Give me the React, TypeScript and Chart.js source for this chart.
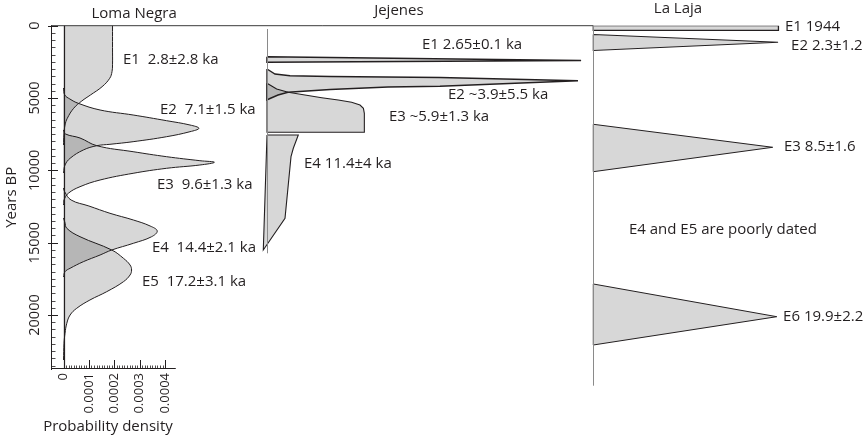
import React, { useEffect, useRef } from 'react';
import { Chart, registerables } from 'chart.js';

Chart.register(...registerables);

const W = 865;
const H = 438;
const FONT = "'Open Sans', 'Noto Sans', sans-serif";
const INK = '#231f20';
const FILL = 'rgba(0,0,0,0.155)';

// ---------- axes ----------
const Y_MAX = 23733; // years BP at the bottom of the Loma Negra axis
const Y_TICKS = [0, 5000, 10000, 15000, 20000];
const Y_MINOR_STEP = 500;
const LN_TICKS = [0, 0.0001, 0.0002, 0.0003, 0.0004];
const LN_MINOR_STEP = 0.00001;
const LN_AXIS_END = 0.000442;
const JJ_AXIS_YEARS = [228, 15735];
const LL_AXIS_YEARS = [0, 24887];

// ---------- Loma Negra: probability density vs years BP ----------
const LN_E1_YEARS = [-3000, -3000, -1500, 0, 1500, 2700, 3180, 3636, 4217, 4791, 5206, 5710, 6401, 6865, 7556, 8247];
const LN_E1_DENS = [0, 1.93e-4, 1.93e-4, 1.93e-4, 1.93e-4, 1.93e-4, 1.91e-4, 1.82e-4, 1.52e-4, 1.06e-4, 0.72e-4, 0.40e-4, 0.15e-4, 0.06e-4, 0.015e-4, 0];
const LN_E2_YEARS = [4307, 4791, 5067, 5365, 5828, 6173, 6567, 6865, 7093, 7328, 7673, 8019, 8199, 8296, 8593, 9167, 9630, 10183];
const LN_E2_DENS = [0, 0.05e-4, 0.25e-4, 0.58e-4, 1.44e-4, 2.74e-4, 4.06e-4, 4.98e-4, 5.33e-4, 4.98e-4, 4.06e-4, 2.74e-4, 1.83e-4, 1.31e-4, 0.78e-4, 0.26e-4, 0.06e-4, 0];
const LN_E3_YEARS = [7210, 7487, 7763, 8296, 8710, 9056, 9333, 9443, 9630, 9858, 10204, 10667, 11130, 11586, 12050, 12395];
const LN_E3_DENS = [0, 0.08e-4, 0.65e-4, 1.31e-4, 2.74e-4, 4.06e-4, 5.37e-4, 5.94e-4, 5.37e-4, 4.06e-4, 2.74e-4, 1.44e-4, 0.65e-4, 0.19e-4, 0.02e-4, 0];
const LN_E4_YEARS = [11220, 11496, 12050, 12464, 12968, 13432, 13847, 14193, 14587, 15043, 15506, 15852, 16315, 16771, 17006, 17372];
const LN_E4_DENS = [0, 0.05e-4, 0.3e-4, 1.0e-4, 1.83e-4, 2.75e-4, 3.41e-4, 3.69e-4, 3.47e-4, 2.75e-4, 1.90e-4, 1.44e-4, 0.78e-4, 0.26e-4, 0.06e-4, 0];
const LN_E5_YEARS = [13294, 13570, 14006, 14587, 15506, 16080, 16543, 16889, 17235, 17697, 18389, 18963, 19536, 20000, 20573, 21264, 21956, 23110];
const LN_E5_DENS = [0, 0.05e-4, 0.13e-4, 0.65e-4, 1.90e-4, 2.36e-4, 2.62e-4, 2.68e-4, 2.62e-4, 2.36e-4, 1.70e-4, 1.04e-4, 0.52e-4, 0.26e-4, 0.13e-4, 0.06e-4, 0.02e-4, 0];

// ---------- Jejenes: relative density (0-100) vs years BP ----------
const JJ_E1_YEARS = [2142, 2406, 2530, 2142];
const JJ_E1_DENS = [0, 101, 0, 0];
const JJ_E2_YEARS = [2993, 3339, 3457, 3512, 3581, 3802, 4189, 4238, 4410, 4604, 4791, 5033, 5136, 2993];
const JJ_E2_DENS = [0, 2.57, 7.4, 20.3, 55.6, 100, 55.6, 38.9, 20.3, 6.75, 3.54, 0.96, 0, 0];
const JJ_E3_YEARS = [3982, 4376, 4604, 4791, 4977, 5136, 5295, 5482, 5710, 6056, 7369, 7369, 3982];
const JJ_E3_DENS = [0, 3.1, 6.8, 12.2, 17.6, 22.9, 27.2, 29.9, 31.0, 31.3, 31.3, 0, 0];
const JJ_E4_YEARS = [7556, 7556, 8475, 9056, 13314, 15506, 7556];
const JJ_E4_DENS = [0, 10.06, 8.46, 7.72, 5.79, -1.19, 0];

// ---------- La Laja: relative density (0-100) vs years BP ----------
const LL_E1_YEARS = [0, 0, 330, 330, 0];
const LL_E1_DENS = [0, 99.7, 99.7, 0, 0];
const LL_E2_YEARS = [609, 1148, 1715, 609];
const LL_E2_DENS = [0, 99.5, 0, 0];
const LL_E3_YEARS = [6816, 8406, 10093, 6816];
const LL_E3_DENS = [0, 96.6, 0, 0];
const LL_E6_YEARS = [17856, 20117, 22073, 17856];
const LL_E6_DENS = [0, 98.8, 0, 0];

// ---------- text labels ----------
const LABEL_TEXT = [
  'Loma Negra', 'Jejenes', 'La Laja',
  'E1  2.8±2.8 ka', 'E2  7.1±1.5 ka', 'E3  9.6±1.3 ka', 'E4  14.4±2.1 ka', 'E5  17.2±3.1 ka',
  'E1 2.65±0.1 ka', 'E2 ~3.9±5.5 ka', 'E3 ~5.9±1.3 ka', 'E4 11.4±4 ka',
  'E1 1944', 'E2 2.3±1.2', 'E3 8.5±1.6', 'E4 and E5 are poorly dated', 'E6 19.9±2.2',
  'Probability density',
];
// placement (scale id, x value, year, alignment) kept apart from the text
const LABEL_AT: [string, number, number, CanvasTextAlign][] = [
  ['x', 2.78e-4, -809, 'center'], ['xJ', 42.4, -1016, 'center'], ['xL', 45.6, -1155, 'center'],
  ['x', 2.34e-4, 2371, 'left'], ['x', 3.80e-4, 5828, 'left'], ['x', 3.68e-4, 11012, 'left'], ['x', 3.48e-4, 15368, 'left'], ['x', 3.09e-4, 17718, 'left'],
  ['xJ', 49.8, 1334, 'left'], ['xJ', 58.2, 4791, 'left'], ['xJ', 39.2, 6312, 'left'], ['xJ', 11.9, 9560, 'left'],
  ['xL', 103.2, 69, 'left'], ['xL', 106.5, 1403, 'left'], ['xL', 102.7, 8386, 'left'], ['xL', 19.2, 14124, 'left'], ['xL', 102.2, 20138, 'left'],
  ['x', 1.75e-4, 27742, 'center'],
];

// ---------- layout ----------
const AREA = { left: 51, top: 25.7, bottom: 369 };
function span(zeroPx: number, pxPerUnit: number) {
  return { min: -(zeroPx - AREA.left) / pxPerUnit, max: (W - zeroPx) / pxPerUnit };
}
const LN_RANGE = span(63.5, 254000);
const JJ_RANGE = span(267, 3.11);
const LL_RANGE = span(593.3, 1.857);

function shape(years: number[], dens: number[], axis: string, tension: number, width = 1) {
  return {
    type: 'line' as const,
    data: years.map((y, i) => ({ x: dens[i], y })),
    xAxisID: axis,
    yAxisID: 'y',
    borderColor: INK,
    borderWidth: width,
    backgroundColor: FILL,
    fill: 'shape',
    tension,
    pointRadius: 0,
    pointHoverRadius: 0,
  };
}

const decor = {
  id: 'decor',
  afterDatasetsDraw(chart: any) {
    const { ctx, chartArea, scales } = chart;
    const ys = scales.y;
    const xl = scales.x;
    const xj = scales.xJ;
    const xa = scales.xL;
    const seg = (x1: number, y1: number, x2: number, y2: number, color: string, w: number) => {
      ctx.beginPath();
      ctx.strokeStyle = color;
      ctx.lineWidth = w;
      ctx.moveTo(x1, y1);
      ctx.lineTo(x2, y2);
      ctx.stroke();
    };
    ctx.save();
    const top = ys.getPixelForValue(0);
    const bottom = chartArea.bottom;
    // top rule at 0 years
    seg(chartArea.left, top, xa.getPixelForValue(0), top, '#3a3a3a', 1);
    // Loma Negra zero-density line
    const x0 = Math.round(xl.getPixelForValue(0)) + 0.5;
    seg(x0, top, x0, bottom, INK, 1.2);
    // density axis line and ticks
    seg(chartArea.left, bottom - 0.5, xl.getPixelForValue(LN_AXIS_END), bottom - 0.5, INK, 1);
    const nX = Math.round(LN_TICKS[LN_TICKS.length - 1] / LN_MINOR_STEP);
    for (let k = 0; k <= nX; k++) {
      const px = Math.round(xl.getPixelForValue(k * LN_MINOR_STEP)) + 0.5;
      const major = k % 10 === 0;
      seg(px, bottom, px, bottom - (major ? 9 : 3.5), INK, major ? 1 : 0.8);
    }
    // years axis ticks
    const left = chartArea.left;
    const nY = Math.floor(Y_MAX / Y_MINOR_STEP);
    for (let k = 0; k <= nY; k++) {
      const v = k * Y_MINOR_STEP;
      const py = Math.round(ys.getPixelForValue(v)) + 0.5;
      const major = v % 5000 === 0;
      seg(major ? left - 3 : left, py, left + (major ? 7 : 4.5), py, INK, major ? 1 : 0.8);
    }
    // Jejenes and La Laja base lines
    const xjp = Math.round(xj.getPixelForValue(0)) + 0.5;
    seg(xjp, ys.getPixelForValue(JJ_AXIS_YEARS[0]), xjp, ys.getPixelForValue(JJ_AXIS_YEARS[1]), '#8a8a8a', 1);
    const xap = Math.round(xa.getPixelForValue(0)) + 0.5;
    seg(xap, ys.getPixelForValue(LL_AXIS_YEARS[0]), xap, ys.getPixelForValue(LL_AXIS_YEARS[1]), '#8a8a8a', 1);
    ctx.restore();
  },
  afterDraw(chart: any) {
    const { ctx, scales } = chart;
    ctx.save();
    ctx.fillStyle = INK;
    ctx.textBaseline = 'middle';
    ctx.font = `15px ${FONT}`;
    LABEL_TEXT.forEach((t, i) => {
      const [sid, xv, yv, align] = LABEL_AT[i];
      ctx.textAlign = align;
      ctx.fillText(t, scales[sid].getPixelForValue(xv), scales.y.getPixelForValue(yv));
    });
    ctx.restore();
  },
};

export default function App() {
  const ref = useRef<HTMLCanvasElement>(null);
  useEffect(() => {
    if (!ref.current) return;
    const chart = new Chart(ref.current, {
      type: 'line',
      data: {
        datasets: [
          shape(LN_E1_YEARS, LN_E1_DENS, 'x', 0.4),
          shape(LN_E2_YEARS, LN_E2_DENS, 'x', 0.4),
          shape(LN_E3_YEARS, LN_E3_DENS, 'x', 0.4),
          shape(LN_E4_YEARS, LN_E4_DENS, 'x', 0.4),
          shape(LN_E5_YEARS, LN_E5_DENS, 'x', 0.4),
          shape(JJ_E1_YEARS, JJ_E1_DENS, 'xJ', 0, 1.6),
          shape(JJ_E2_YEARS, JJ_E2_DENS, 'xJ', 0, 1.4),
          shape(JJ_E3_YEARS, JJ_E3_DENS, 'xJ', 0, 1.1),
          shape(JJ_E4_YEARS, JJ_E4_DENS, 'xJ', 0, 1.1),
          shape(LL_E1_YEARS, LL_E1_DENS, 'xL', 0, 1.3),
          shape(LL_E2_YEARS, LL_E2_DENS, 'xL', 0, 1.1),
          shape(LL_E3_YEARS, LL_E3_DENS, 'xL', 0, 1),
          shape(LL_E6_YEARS, LL_E6_DENS, 'xL', 0, 1),
        ] as any,
      },
      options: {
        responsive: false,
        animation: false,
        events: [],
        devicePixelRatio: 1,
        layout: { padding: { top: AREA.top, left: 0, right: 0, bottom: 0 } },
        plugins: { legend: { display: false }, tooltip: { enabled: false }, title: { display: false } },
        scales: {
          y: {
            type: 'linear',
            position: 'left',
            min: 0,
            max: Y_MAX,
            reverse: true,
            grid: { display: false, drawTicks: false },
            border: { display: true, color: INK, width: 1 },
            ticks: {
              autoSkip: false,
              minRotation: 90,
              maxRotation: 90,
              crossAlign: 'center',
              padding: -5,
              color: INK,
              font: { size: 14.5, family: FONT },
              callback: (v: any) => String(v),
            },
            afterBuildTicks: (s: any) => { s.ticks = Y_TICKS.map((v) => ({ value: v })); },
            afterFit: (s: any) => { s.width = AREA.left; },
            title: { display: true, text: 'Years BP', color: INK, font: { size: 15, family: FONT }, padding: { top: 3, bottom: 0 } },
          },
          x: {
            type: 'linear',
            position: 'bottom',
            min: LN_RANGE.min,
            max: LN_RANGE.max,
            grid: { display: false, drawTicks: false },
            border: { display: false },
            ticks: {
              autoSkip: false,
              minRotation: 90,
              maxRotation: 90,
              padding: 4,
              color: INK,
              font: { size: 13, family: FONT },
              callback: (v: any) => String(v),
            },
            afterBuildTicks: (s: any) => { s.ticks = LN_TICKS.map((v) => ({ value: v })); },
            afterFit: (s: any) => { s.height = H - AREA.bottom; },
          },
          xJ: { type: 'linear', axis: 'x', display: false, min: JJ_RANGE.min, max: JJ_RANGE.max },
          xL: { type: 'linear', axis: 'x', display: false, min: LL_RANGE.min, max: LL_RANGE.max },
        } as any,
      },
      plugins: [decor],
    });
    return () => chart.destroy();
  }, []);
  return (
    <div style={{ position: 'fixed', left: 0, top: 0, width: W, height: H, background: '#fff' }}>
      <canvas ref={ref} width={W} height={H} style={{ display: 'block', width: W, height: H }} />
    </div>
  );
}
